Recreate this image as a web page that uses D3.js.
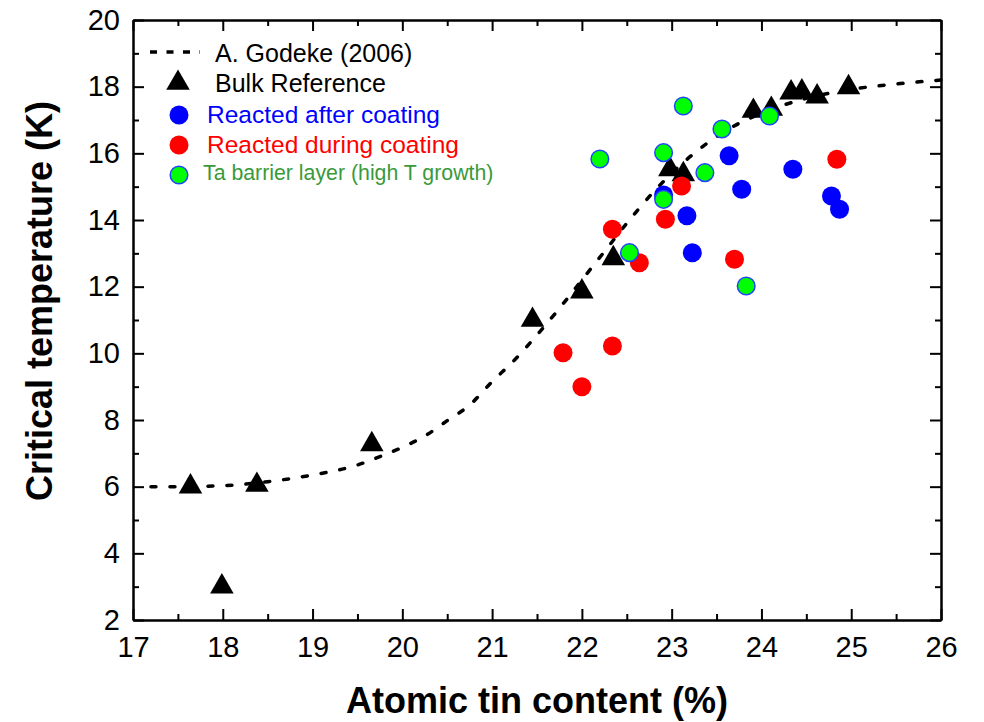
<!DOCTYPE html>
<html>
<head>
<meta charset="utf-8">
<script src="https://cdn.jsdelivr.net/npm/d3@7"></script>
<style>
  html, body { margin: 0; padding: 0; background: #fff; }
  svg { display: block; font-family: "Liberation Sans", Arial, sans-serif; }
</style>
</head>
<body>
<svg id="chart" width="984" height="722"></svg>
<script>
// Godeke (2006) Tc(Sn) fit, sampled along the curve
const fitX = [17.2, 17.5, 18.0, 18.5, 19.0, 19.5, 19.75, 20.0, 20.25, 20.5, 20.75, 21.0, 21.25, 21.5, 21.75, 22.0, 22.25, 22.5, 22.75, 23.0, 23.25, 23.5, 23.75, 24.0, 24.25, 24.5, 24.75, 25.0, 25.5, 26.0];
const fitY = [6.0, 6.0, 6.03, 6.15, 6.35, 6.65, 6.9, 7.18, 7.52, 7.98, 8.45, 9.15, 9.8, 10.55, 11.35, 12.2, 13.05, 13.9, 14.7, 15.4, 16.0, 16.5, 16.9, 17.2, 17.45, 17.65, 17.8, 17.92, 18.08, 18.2];

// Bulk reference samples
const bulkX = [17.64, 17.99, 18.38, 19.66, 21.45, 22.0, 22.35, 22.98, 23.13, 23.91, 24.11, 24.33, 24.45, 24.62, 24.97];
const bulkY = [6.0, 3.0, 6.05, 7.27, 11.0, 11.85, 12.85, 15.52, 15.37, 17.27, 17.33, 17.82, 17.85, 17.7, 17.98];

// Films reacted after coating
const afterX = [23.64, 24.35, 23.78, 24.78, 24.87, 23.17, 23.23, 22.91];
const afterY = [15.93, 15.52, 14.92, 14.72, 14.32, 14.13, 13.02, 14.75];

// Films reacted during coating
const duringX = [24.84, 23.11, 22.93, 22.34, 22.64, 23.70, 21.79, 22.34, 22.0];
const duringY = [15.82, 15.02, 14.02, 13.72, 12.72, 12.82, 10.02, 10.22, 9.0];

// Ta barrier layer, high-temperature growth
const taX = [23.13, 24.09, 23.56, 22.2, 22.91, 23.37, 22.91, 22.53, 23.83];
const taY = [17.42, 17.12, 16.73, 15.83, 16.02, 15.42, 14.62, 13.02, 12.02];

const xMajor = [17, 18, 19, 20, 21, 22, 23, 24, 25, 26];
const xMinor = [17.5, 18.5, 19.5, 20.5, 21.5, 22.5, 23.5, 24.5, 25.5];
const yMajor = [2, 4, 6, 8, 10, 12, 14, 16, 18, 20];
const yMinor = [3, 5, 7, 9, 11, 13, 15, 17, 19];

const legendLabels = ["A. Godeke (2006)", "Bulk Reference", "Reacted after coating", "Reacted during coating", "Ta barrier layer (high T growth)"];

const svg = d3.select("#chart");
const plotL = 133, plotR = 941, plotT = 20, plotB = 620;

const x = d3.scaleLinear().domain([17, 26]).range([plotL, plotR]);
const y = d3.scaleLinear().domain([2, 20]).range([plotB, plotT]);

const blue = "#0000ff", red = "#ff0000", green = "#00ff00", greenText = "#3a9a3a";
const majorLen = 11, minorLen = 6;

// Axes: ticks point inward on all four sides
function styleAxis(g) {
  g.select(".domain").attr("stroke", "#000").attr("stroke-width", 2);
  g.selectAll(".tick line").attr("stroke", "#000").attr("stroke-width", 2);
  g.selectAll("text").attr("fill", "#000").attr("font-size", 29)
    .attr("font-family", "'Liberation Sans', Arial, sans-serif");
}

svg.append("g").attr("transform", `translate(0,${plotB})`)
  .call(d3.axisBottom(x).tickValues(xMajor).tickFormat(d3.format("d"))
    .tickSize(-majorLen).tickSizeOuter(0).tickPadding(16))
  .call(styleAxis);
svg.append("g").attr("transform", `translate(0,${plotB})`)
  .call(d3.axisBottom(x).tickValues(xMinor).tickFormat("").tickSize(-minorLen).tickSizeOuter(0))
  .call(styleAxis);

svg.append("g").attr("transform", `translate(0,${plotT})`)
  .call(d3.axisTop(x).tickValues(xMajor).tickFormat("").tickSize(-majorLen).tickSizeOuter(0))
  .call(styleAxis);
svg.append("g").attr("transform", `translate(0,${plotT})`)
  .call(d3.axisTop(x).tickValues(xMinor).tickFormat("").tickSize(-minorLen).tickSizeOuter(0))
  .call(styleAxis);

svg.append("g").attr("transform", `translate(${plotL},0)`)
  .call(d3.axisLeft(y).tickValues(yMajor).tickFormat(d3.format("d"))
    .tickSize(-majorLen).tickSizeOuter(0).tickPadding(13))
  .call(styleAxis);
svg.append("g").attr("transform", `translate(${plotL},0)`)
  .call(d3.axisLeft(y).tickValues(yMinor).tickFormat("").tickSize(-minorLen).tickSizeOuter(0))
  .call(styleAxis);

svg.append("g").attr("transform", `translate(${plotR},0)`)
  .call(d3.axisRight(y).tickValues(yMajor).tickFormat("").tickSize(-majorLen).tickSizeOuter(0))
  .call(styleAxis);
svg.append("g").attr("transform", `translate(${plotR},0)`)
  .call(d3.axisRight(y).tickValues(yMinor).tickFormat("").tickSize(-minorLen).tickSizeOuter(0))
  .call(styleAxis);

// Axis titles
svg.append("text")
  .attr("x", (plotL + plotR) / 2).attr("y", 713)
  .attr("text-anchor", "middle").attr("font-size", 36).attr("font-weight", "bold")
  .text("Atomic tin content (%)");
svg.append("text")
  .attr("transform", "translate(52,301) rotate(-90)")
  .attr("text-anchor", "middle").attr("font-size", 36).attr("font-weight", "bold")
  .text("Critical temperature (K)");

// Fit curve
const fitPts = fitX.map((v, i) => [v, fitY[i]]);
svg.append("path")
  .datum(fitPts)
  .attr("fill", "none").attr("stroke", "#000").attr("stroke-width", 3.5)
  .attr("stroke-linecap", "round").attr("stroke-dasharray", "5,14")
  .attr("d", d3.line().x(d => x(d[0])).y(d => y(d[1])).curve(d3.curveMonotoneX));

// Markers
const tri = d3.symbol().type(d3.symbolTriangle).size(240);
svg.append("g").selectAll("path")
  .data(bulkX.map((v, i) => [v, bulkY[i]]))
  .join("path")
  .attr("d", tri)
  .attr("transform", d => `translate(${x(d[0])},${y(d[1])})`)
  .attr("fill", "#000");

function circles(xs, ys, fill, stroke) {
  svg.append("g").selectAll("circle")
    .data(xs.map((v, i) => [v, ys[i]]))
    .join("circle")
    .attr("cx", d => x(d[0])).attr("cy", d => y(d[1]))
    .attr("r", stroke ? 8.8 : 9.5)
    .attr("fill", fill)
    .attr("stroke", stroke || "none")
    .attr("stroke-width", stroke ? 1.5 : 0);
}
circles(afterX, afterY, blue);
circles(duringX, duringY, red);
circles(taX, taY, green, "#2244ff");

// Legend
const lg = svg.append("g");
lg.append("line")
  .attr("x1", 150).attr("x2", 200).attr("y1", 52).attr("y2", 52)
  .attr("stroke", "#000").attr("stroke-width", 3.5)
  .attr("stroke-linecap", "butt").attr("stroke-dasharray", "7,9.5");
lg.append("text").attr("x", 215).attr("y", 62).attr("font-size", 25).attr("fill", "#000").text(legendLabels[0]);

lg.append("path").attr("d", tri).attr("transform", "translate(178,83)").attr("fill", "#000");
lg.append("text").attr("x", 215).attr("y", 92).attr("font-size", 25).attr("fill", "#000").text(legendLabels[1]);

lg.append("circle").attr("cx", 179).attr("cy", 115).attr("r", 9.5).attr("fill", blue);
lg.append("text").attr("x", 207).attr("y", 123).attr("font-size", 24.5).attr("fill", blue).text(legendLabels[2]);

lg.append("circle").attr("cx", 179).attr("cy", 145).attr("r", 9.5).attr("fill", red);
lg.append("text").attr("x", 207).attr("y", 153).attr("font-size", 24.5).attr("fill", red).text(legendLabels[3]);

lg.append("circle").attr("cx", 179).attr("cy", 175).attr("r", 8.8).attr("fill", green)
  .attr("stroke", "#2244ff").attr("stroke-width", 1.5);
lg.append("text").attr("x", 203).attr("y", 180).attr("font-size", 21.3).attr("fill", greenText).text(legendLabels[4]);
</script>
</body>
</html>
